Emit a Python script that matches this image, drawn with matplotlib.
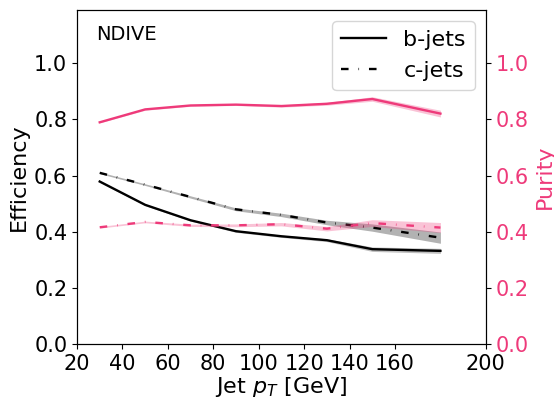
import numpy as np
import matplotlib.pyplot as plt

PINK = '#ee3a7a'

# jet pT bin centres [GeV]
pt = np.array([30, 50, 70, 90, 110, 130, 150, 180])

# efficiencies and their uncertainties
eff_b = np.array([0.579, 0.496, 0.441, 0.402, 0.384, 0.370, 0.338, 0.332])
eff_b_err = np.array([0.003, 0.003, 0.003, 0.004, 0.004, 0.005, 0.008, 0.009])
eff_c = np.array([0.610, 0.568, 0.524, 0.480, 0.460, 0.433, 0.415, 0.379])
eff_c_err = np.array([0.003, 0.003, 0.004, 0.005, 0.006, 0.008, 0.013, 0.020])

# purities and their uncertainties
pur_b = np.array([0.790, 0.836, 0.850, 0.853, 0.848, 0.856, 0.873, 0.821])
pur_b_err = np.array([0.002, 0.003, 0.003, 0.003, 0.004, 0.005, 0.008, 0.012])
pur_c = np.array([0.416, 0.435, 0.423, 0.423, 0.427, 0.411, 0.431, 0.415])
pur_c_err = np.array([0.003, 0.003, 0.004, 0.005, 0.006, 0.008, 0.012, 0.018])

dashdot = (0, (3.2, 4.2, 0.25, 4.2))

fig, ax = plt.subplots(figsize=(5.54, 4.01), dpi=100)
fig.subplots_adjust(left=0.139, right=0.877, bottom=0.142, top=0.975)

ax.fill_between(pt, eff_b - eff_b_err, eff_b + eff_b_err, color='black', alpha=0.25, lw=0)
ax.plot(pt, eff_b, color='black', lw=1.7, label='b-jets')
ax.fill_between(pt, eff_c - eff_c_err, eff_c + eff_c_err, color='black', alpha=0.3, lw=0)
ax.plot(pt, eff_c, color='black', lw=1.7, ls=dashdot, label='c-jets')

ax.set_xlim(20, 200)
ax.set_ylim(0, 1.19)
ax.set_xticks([20, 40, 60, 80, 100, 120, 140, 160, 200])
ax.set_yticks([0.0, 0.2, 0.4, 0.6, 0.8, 1.0])
ax.tick_params(labelsize=15)
ax.set_xlabel('Jet $p_T$ [GeV]', fontsize=16, labelpad=1)
ax.set_ylabel('Efficiency', fontsize=16)
ax.text(0.046, 0.955, 'NDIVE', transform=ax.transAxes, fontsize=14, va='top')

ax2 = ax.twinx()
ax2.fill_between(pt, pur_b - pur_b_err, pur_b + pur_b_err, color=PINK, alpha=0.3, lw=0)
ax2.plot(pt, pur_b, color=PINK, lw=1.7)
ax2.fill_between(pt, pur_c - pur_c_err, pur_c + pur_c_err, color=PINK, alpha=0.3, lw=0)
ax2.plot(pt, pur_c, color=PINK, lw=1.7, ls=dashdot)
ax2.set_ylim(0, 1.19)
ax2.set_yticks([0.0, 0.2, 0.4, 0.6, 0.8, 1.0])
ax2.tick_params(labelsize=15, labelcolor=PINK)
ax2.set_ylabel('Purity', fontsize=16, color=PINK)

ax.legend(loc='upper right', fontsize=16)

fig.savefig('out.png')
